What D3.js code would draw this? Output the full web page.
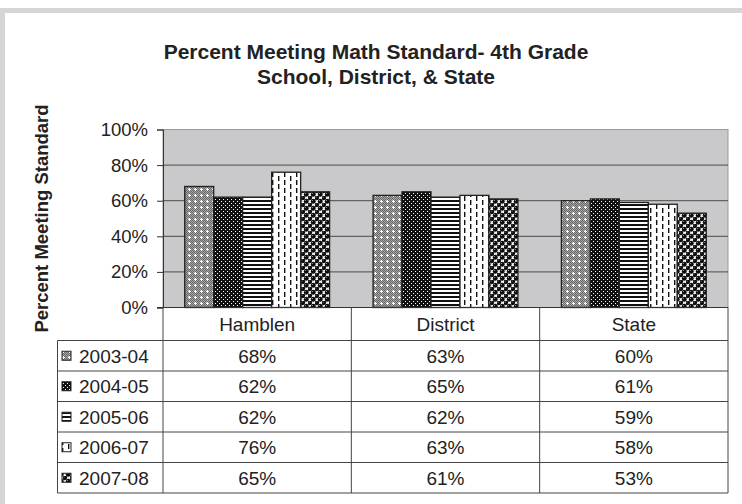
<!DOCTYPE html>
<html lang="en">
<head>
<meta charset="UTF-8">
<title>Percent Meeting Math Standard</title>
<script src="https://d3js.org/d3.v7.min.js"></script>
<style>
  html, body { margin: 0; padding: 0; background: #fff; }
  svg text { font-family: "Liberation Sans", Arial, sans-serif; fill: #222; }
</style>
</head>
<body>
<div id="chart"></div>
<script>
// chart data
const categories = ["Hamblen", "District", "State"];
const seriesNames = ["2003-04", "2004-05", "2005-06", "2006-07", "2007-08"];
const v2003_04 = [68, 63, 60];
const v2004_05 = [62, 65, 61];
const v2005_06 = [62, 62, 59];
const v2006_07 = [76, 63, 58];
const v2007_08 = [65, 61, 53];
const yTicks = [0, 20, 40, 60, 80, 100];
const titleLines = ["Percent Meeting Math Standard- 4th Grade", "School, District, & State"];
const yLabel = "Percent Meeting Standard";

const seriesValues = [v2003_04, v2004_05, v2005_06, v2006_07, v2007_08];
const patternIds = ["p1", "p2", "p3", "p4", "p5"];

const W = 742, H = 504;
const plot = { left: 163, right: 728, top: 129.5, bottom: 307.5 };
const table = { left: 57.5, headerBottom: 340.5, bottom: 493 };

const svg = d3.select("#chart").append("svg")
  .attr("width", W).attr("height", H);

// patterns
const defs = svg.append("defs");
function pat(id, w, h) {
  return defs.append("pattern").attr("id", id)
    .attr("patternUnits", "userSpaceOnUse").attr("width", w).attr("height", h);
}
// 2003-04: dithered gray with white crosses
let p = pat("p1", 6, 6);
p.append("rect").attr("width", 6).attr("height", 6).attr("fill", "#a4a4a4");
[[0,0],[2,0],[4,0],[1,1],[3,1],[5,1],[0,2],[4,2],[1,3],[5,3],[0,4],[2,4],[4,4],[1,5],[3,5],[5,5]].forEach(d =>
  p.append("rect").attr("x", d[0]).attr("y", d[1]).attr("width", 1).attr("height", 1).attr("fill", "#6a6a6a"));
p.append("rect").attr("x", 2).attr("y", 3).attr("width", 3).attr("height", 1).attr("fill", "#fff");
p.append("rect").attr("x", 3).attr("y", 2).attr("width", 1).attr("height", 3).attr("fill", "#fff");
// 2004-05: black with white dots
p = pat("p2", 4, 4);
p.append("rect").attr("width", 4).attr("height", 4).attr("fill", "#111");
p.append("rect").attr("x", 1).attr("y", 1).attr("width", 1).attr("height", 1).attr("fill", "#fff");
p.append("rect").attr("x", 3).attr("y", 3).attr("width", 1).attr("height", 1).attr("fill", "#fff");
// 2005-06: horizontal stripes
p = pat("p3", 4, 4);
p.append("rect").attr("width", 4).attr("height", 4).attr("fill", "#fff");
p.append("rect").attr("width", 4).attr("height", 2).attr("fill", "#111");
// 2006-07: white with dashed vertical lines
p = pat("p4", 12, 8);
p.append("rect").attr("width", 12).attr("height", 8).attr("fill", "#fff");
p.append("rect").attr("x", 2).attr("y", 0).attr("width", 1.4).attr("height", 5).attr("fill", "#111");
p.append("rect").attr("x", 8).attr("y", 4).attr("width", 1.4).attr("height", 4).attr("fill", "#111");
p.append("rect").attr("x", 8).attr("y", 0).attr("width", 1.4).attr("height", 1).attr("fill", "#111");
// 2007-08: black spheres
p = pat("p5", 7, 7);
p.append("rect").attr("width", 7).attr("height", 7).attr("fill", "#f4f4f4");
[[1.75, 1.75], [5.25, 5.25], [5.25, -1.75], [-1.75, 5.25], [8.75, 5.25], [5.25, 8.75]].forEach(d => {
  p.append("circle").attr("cx", d[0]).attr("cy", d[1]).attr("r", 2.4).attr("fill", "#0c0c0c");
  p.append("circle").attr("cx", d[0] - 0.7).attr("cy", d[1] - 0.7).attr("r", 0.55).attr("fill", "#aaa");
});

// outer frame
svg.append("rect").attr("x", 0).attr("y", 8).attr("width", W).attr("height", 5).attr("fill", "#d6d6d6");
svg.append("rect").attr("x", 0).attr("y", 8).attr("width", 5).attr("height", H - 8).attr("fill", "#d6d6d6");

// title
svg.append("text").attr("x", 376).attr("y", 59)
  .attr("text-anchor", "middle").style("font-weight", "bold").style("font-size", "21px")
  .text(titleLines[0]);
svg.append("text").attr("x", 376).attr("y", 84)
  .attr("text-anchor", "middle").style("font-weight", "bold").style("font-size", "21px")
  .text(titleLines[1]);

// scales
const y = d3.scaleLinear().domain([0, 100]).range([plot.bottom, plot.top]);
const x0 = d3.scaleBand().domain(categories).range([plot.left, plot.right]).padding(0);
const x1 = d3.scaleBand().domain(seriesNames).range([0, x0.bandwidth()])
  .paddingInner(0).paddingOuter(0.75);

// plot background
svg.append("rect").attr("x", plot.left).attr("y", plot.top)
  .attr("width", plot.right - plot.left).attr("height", plot.bottom - plot.top)
  .attr("fill", "#c9c9cb").attr("stroke", "#9a9a9a").attr("stroke-width", 1);

// gridlines
svg.append("g").selectAll("line").data(yTicks.filter(t => t > 0 && t < 100)).join("line")
  .attr("x1", plot.left).attr("x2", plot.right)
  .attr("y1", d => y(d)).attr("y2", d => y(d))
  .attr("stroke", "#4a4a4a").attr("stroke-width", 1);

// y axis
const yAxis = svg.append("g").attr("transform", `translate(${plot.left},0)`)
  .call(d3.axisLeft(y).tickValues(yTicks).tickFormat(d => d + "%").tickSize(6).tickPadding(9));
yAxis.select(".domain").attr("stroke", "#333");
yAxis.selectAll(".tick line").attr("stroke", "#333");
yAxis.selectAll(".tick text").style("font-size", "18.5px").attr("fill", "#222")
  .style("font-family", "'Liberation Sans', Arial, sans-serif");

svg.append("text")
  .attr("transform", `translate(48,${(plot.top + plot.bottom) / 2}) rotate(-90)`)
  .attr("text-anchor", "middle").style("font-weight", "bold").style("font-size", "18.5px")
  .text(yLabel);

// bars
const barData = [];
seriesNames.forEach((s, i) => categories.forEach((c, j) =>
  barData.push({ series: s, cat: c, value: seriesValues[i][j], pid: patternIds[i] })));
svg.append("g").selectAll("rect").data(barData).join("rect")
  .attr("x", d => x0(d.cat) + x1(d.series))
  .attr("y", d => y(d.value))
  .attr("width", x1.bandwidth())
  .attr("height", d => y(0) - y(d.value))
  .attr("fill", d => `url(#${d.pid})`)
  .attr("stroke", "#222").attr("stroke-width", 1.3);

// x axis line
svg.append("line").attr("x1", plot.left - 6).attr("x2", plot.right)
  .attr("y1", plot.bottom).attr("y2", plot.bottom).attr("stroke", "#333");

// data table
const rowY = d3.scaleBand().domain(seriesNames).range([table.headerBottom, table.bottom]);
const tg = svg.append("g").attr("stroke", "#444").attr("stroke-width", 1);
// horizontal lines
tg.append("line").attr("x1", table.left).attr("x2", plot.right)
  .attr("y1", table.headerBottom).attr("y2", table.headerBottom);
seriesNames.forEach(s => tg.append("line").attr("x1", table.left).attr("x2", plot.right)
  .attr("y1", rowY(s) + rowY.bandwidth()).attr("y2", rowY(s) + rowY.bandwidth()));
// vertical lines
tg.append("line").attr("x1", table.left).attr("x2", table.left)
  .attr("y1", table.headerBottom).attr("y2", table.bottom);
categories.forEach(c => tg.append("line").attr("x1", x0(c)).attr("x2", x0(c))
  .attr("y1", plot.bottom).attr("y2", table.bottom));
tg.append("line").attr("x1", plot.right).attr("x2", plot.right)
  .attr("y1", plot.bottom).attr("y2", table.bottom);

// header
svg.append("g").selectAll("text").data(categories).join("text")
  .attr("x", d => x0(d) + x0.bandwidth() / 2)
  .attr("y", (plot.bottom + table.headerBottom) / 2 + 7)
  .attr("text-anchor", "middle").style("font-size", "19px")
  .text(d => d);

// legend keys + values
seriesNames.forEach((s, i) => {
  const cy = rowY(s) + rowY.bandwidth() / 2;
  svg.append("rect").attr("x", 62).attr("y", cy - 4.5).attr("width", 9).attr("height", 9)
    .attr("fill", `url(#${patternIds[i]})`).attr("stroke", "#222").attr("stroke-width", 1);
  svg.append("text").attr("x", 79).attr("y", cy + 7).style("font-size", "19px").text(s);
  categories.forEach((c, j) => {
    svg.append("text").attr("x", x0(c) + x0.bandwidth() / 2).attr("y", cy + 7)
      .attr("text-anchor", "middle").style("font-size", "19px")
      .text(seriesValues[i][j] + "%");
  });
});
</script>
</body>
</html>
